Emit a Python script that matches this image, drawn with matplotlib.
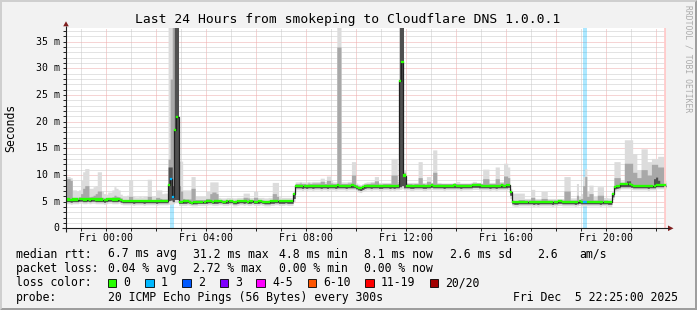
import numpy as np
import matplotlib
matplotlib.use("Agg")
import matplotlib.pyplot as plt
from matplotlib.patches import Polygon, Rectangle
from matplotlib.transforms import blended_transform_factory

# ---------------- data (5-minute steps, Thu 22:25 -> Fri 22:25) ----------------
START_H = -95 / 60.0          # hours relative to Fri 00:00
END_H = 22 + 25 / 60.0
STEP_H = 5 / 60.0

median = [
    5.4, 5.4, 5.3, 5.4, 5.4, 5.4, 5.5, 5.5, 5.4, 5.4, 5.5, 5.4,
    5.5, 5.5, 5.4, 5.4, 5.4, 5.4, 5.3, 5.4, 5.5, 5.5, 5.4, 5.4,
    5.4, 5.5, 5.3, 5.1, 5.1, 5.1, 5.1, 5.1, 5.1, 5.1, 5.1, 5.1,
    5.1, 5.1, 5.1, 5.1, 5.1, 5.1, 5.1, 5.1, 5.1, 5.1, 5.1, 5.1,
    5.1, 8.2, 9.3, 5.9, 18.5, 20.9, 5.0, 5.0, 5.1, 5.1, 5.1, 5.0,
    4.8, 4.9, 4.9, 5.0, 5.0, 5.0, 5.0, 5.1, 5.1, 5.1, 5.0, 5.1,
    5.1, 5.1, 5.1, 5.0, 5.0, 5.1, 5.1, 5.1, 4.9, 5.0, 5.1, 5.1,
    5.1, 5.1, 5.1, 5.0, 5.1, 5.1, 5.0, 5.0, 5.1, 5.1, 5.0, 4.9,
    4.9, 5.0, 5.1, 5.1, 5.1, 5.1, 5.1, 5.1, 5.1, 5.1, 5.1, 5.1,
    5.1, 6.4, 8.0, 8.0, 8.0, 8.0, 8.0, 7.9, 8.0, 8.0, 8.0, 8.0,
    8.0, 8.0, 7.9, 8.0, 8.0, 8.0, 8.0, 8.0, 8.0, 8.0, 8.1, 8.0,
    8.0, 8.0, 8.0, 8.0, 8.0, 8.1, 8.0, 7.8, 7.6, 7.5, 7.7, 7.9,
    8.0, 8.0, 8.0, 8.0, 8.0, 8.0, 7.9, 7.9, 8.0, 8.0, 8.0, 8.0,
    8.0, 8.0, 8.0, 8.0, 27.7, 31.2, 9.9, 8.0, 8.0, 8.0, 7.9, 8.0,
    8.0, 8.0, 8.0, 8.0, 7.9, 8.0, 8.0, 8.1, 8.0, 8.0, 8.0, 8.0,
    8.0, 8.0, 8.0, 8.0, 8.0, 8.0, 8.1, 8.0, 8.0, 8.0, 8.0, 8.0,
    8.0, 8.0, 8.0, 8.1, 8.1, 8.1, 8.1, 8.0, 8.0, 8.0, 8.0, 8.0,
    8.0, 8.0, 7.9, 8.0, 8.0, 8.1, 8.0, 8.1, 8.1, 6.8, 5.0, 4.9,
    4.9, 5.0, 5.0, 5.0, 5.0, 5.0, 5.0, 5.0, 5.0, 5.0, 4.9, 5.0,
    5.0, 5.0, 5.0, 5.0, 5.0, 5.0, 5.0, 5.0, 5.1, 5.1, 5.0, 5.0,
    5.0, 5.0, 5.0, 5.0, 5.0, 5.0, 5.1, 5.0, 5.0, 5.0, 5.0, 5.0,
    5.0, 5.0, 5.0, 5.0, 5.0, 5.0, 5.0, 5.0, 4.9, 4.9, 6.4, 7.8,
    7.9, 8.0, 8.3, 8.3, 8.3, 8.3, 8.3, 8.1, 8.0, 8.0, 8.0, 8.0,
    8.0, 8.0, 8.0, 8.0, 8.0, 8.0, 8.0, 8.2, 8.2, 8.2, 8.2, 8.1,
]

ping_max = [
    9.7, 9.7, 9.5, 7.2, 7.2, 7.0, 7.2, 9.0, 10.6, 11.2, 11.2, 7.5,
    7.5, 7.8, 8.0, 10.6, 10.6, 7.0, 6.5, 6.4, 6.8, 6.8, 7.2, 7.8,
    7.5, 7.2, 6.4, 6.0, 6.0, 6.2, 9.1, 9.1, 6.0, 5.9, 5.9, 6.0,
    5.9, 6.0, 6.0, 9.2, 9.2, 6.0, 6.1, 7.2, 7.2, 7.2, 6.5, 6.6,
    6.6, 40.0, 40.0, 40.0, 40.0, 40.0, 12.6, 12.6, 7.2, 7.2, 7.2, 7.2,
    9.7, 9.7, 6.0, 6.0, 6.0, 6.0, 6.0, 6.9, 6.9, 8.7, 8.7, 8.7,
    8.7, 5.8, 5.7, 5.7, 5.7, 5.8, 5.8, 5.8, 5.7, 5.7, 5.8, 5.8,
    5.8, 6.6, 6.6, 6.6, 5.8, 5.8, 6.9, 6.9, 5.8, 5.8, 5.8, 5.7,
    5.7, 5.8, 5.8, 8.6, 8.6, 8.6, 5.9, 5.8, 5.8, 5.8, 5.8, 5.8,
    5.8, 7.0, 8.7, 8.7, 8.8, 8.7, 8.7, 8.7, 8.8, 8.7, 8.8, 8.8,
    8.8, 8.8, 9.4, 9.4, 8.8, 9.8, 9.8, 9.0, 8.7, 8.7, 40.0, 40.0,
    8.7, 8.7, 8.7, 8.8, 8.8, 12.5, 12.5, 8.5, 8.3, 8.2, 8.4, 8.6,
    8.7, 8.7, 8.8, 8.8, 9.7, 9.7, 8.6, 8.6, 8.6, 8.6, 8.6, 8.6,
    13.1, 13.1, 13.1, 8.8, 40.0, 40.0, 11.0, 8.6, 8.6, 8.6, 8.6, 8.6,
    8.6, 12.5, 12.5, 8.6, 8.6, 9.7, 9.7, 8.6, 14.7, 14.7, 8.6, 8.6,
    8.5, 8.5, 8.5, 8.5, 8.5, 8.5, 8.5, 8.8, 8.8, 8.5, 8.5, 8.5,
    8.5, 8.5, 8.6, 8.8, 8.8, 8.6, 8.6, 8.5, 11.1, 11.1, 11.1, 8.6,
    8.6, 8.6, 11.5, 11.5, 8.8, 8.8, 12.2, 12.2, 11.5, 7.5, 6.6, 6.6,
    6.6, 6.6, 6.6, 6.6, 5.6, 5.6, 5.6, 7.3, 7.3, 5.6, 5.6, 5.6,
    6.9, 6.9, 6.9, 5.6, 5.6, 5.6, 5.6, 5.6, 5.6, 5.6, 5.6, 9.7,
    9.7, 9.7, 5.7, 5.7, 5.7, 8.4, 6.0, 6.5, 9.7, 11.2, 7.0, 8.1,
    8.1, 6.0, 6.0, 7.8, 7.8, 7.8, 5.8, 5.8, 5.7, 5.7, 7.0, 12.5,
    12.5, 12.5, 8.9, 8.9, 16.6, 16.6, 16.6, 16.6, 14.0, 14.0, 11.0, 11.0,
    14.9, 14.9, 14.9, 12.5, 12.5, 13.1, 13.1, 13.1, 13.5, 13.5, 13.5, 9.0,
]

ping_q3 = [
    9.3, 9.3, 9.0, 5.8, 5.8, 5.8, 5.9, 6.5, 7.5, 8.0, 8.0, 5.9,
    6.0, 6.2, 6.5, 7.0, 7.0, 5.8, 5.7, 5.7, 5.8, 5.8, 5.9, 6.2,
    6.0, 5.9, 5.7, 5.4, 5.4, 5.4, 6.0, 6.0, 5.4, 5.4, 5.4, 5.4,
    5.4, 5.4, 5.4, 6.0, 6.0, 5.4, 5.4, 5.8, 5.8, 5.6, 5.5, 5.5,
    5.5, 13.0, 28.0, 40.0, 40.0, 40.0, 8.0, 7.0, 5.6, 5.5, 5.5, 5.5,
    7.5, 7.5, 5.4, 5.4, 5.4, 5.4, 5.4, 5.6, 5.6, 6.5, 6.8, 6.8,
    6.5, 5.4, 5.4, 5.3, 5.3, 5.4, 5.4, 5.4, 5.2, 5.3, 5.4, 5.4,
    5.4, 5.8, 5.8, 5.7, 5.4, 5.4, 5.8, 5.8, 5.4, 5.4, 5.3, 5.2,
    5.2, 5.3, 5.4, 6.5, 6.5, 6.0, 5.4, 5.4, 5.4, 5.4, 5.4, 5.4,
    5.4, 6.6, 8.4, 8.4, 8.5, 8.4, 8.4, 8.3, 8.5, 8.4, 8.5, 8.5,
    8.5, 8.5, 8.8, 8.8, 8.4, 9.0, 9.0, 8.5, 8.4, 8.4, 34.0, 34.0,
    8.4, 8.4, 8.4, 8.5, 8.5, 10.0, 10.0, 8.2, 8.0, 7.9, 8.1, 8.3,
    8.4, 8.4, 8.5, 8.5, 8.9, 8.9, 8.3, 8.3, 8.4, 8.4, 8.4, 8.4,
    10.0, 10.0, 10.0, 8.4, 40.0, 40.0, 10.5, 8.4, 8.4, 8.4, 8.3, 8.4,
    8.4, 9.5, 9.5, 8.4, 8.3, 8.8, 8.8, 8.5, 10.5, 10.5, 8.4, 8.4,
    8.4, 8.4, 8.4, 8.4, 8.4, 8.4, 8.5, 8.4, 8.4, 8.4, 8.4, 8.4,
    8.4, 8.4, 8.4, 8.5, 8.5, 8.5, 8.5, 8.4, 9.3, 9.3, 9.3, 8.4,
    8.4, 8.4, 9.3, 9.3, 8.5, 8.5, 9.8, 9.8, 9.5, 7.1, 5.3, 5.2,
    5.2, 5.4, 5.4, 5.4, 5.3, 5.3, 5.3, 5.8, 5.8, 5.3, 5.3, 5.3,
    5.6, 5.6, 5.6, 5.3, 5.3, 5.3, 5.3, 5.3, 5.4, 5.4, 5.3, 7.0,
    7.0, 7.0, 5.3, 5.3, 5.3, 6.2, 5.4, 5.6, 8.0, 9.7, 6.0, 6.5,
    6.5, 5.3, 5.3, 6.2, 6.2, 6.2, 5.3, 5.3, 5.2, 5.2, 6.6, 9.5,
    9.5, 9.5, 8.6, 8.6, 12.2, 12.2, 12.2, 12.2, 10.5, 10.5, 9.5, 9.5,
    11.0, 11.0, 11.0, 10.0, 10.0, 12.0, 12.0, 12.0, 11.5, 11.5, 11.5, 8.5,
]

ping_q1 = [
    5.0, 5.0, 4.9, 5.0, 5.0, 5.0, 5.1, 5.1, 5.0, 5.0, 5.1, 5.0,
    5.1, 5.1, 5.0, 5.0, 5.0, 5.0, 4.9, 5.0, 5.1, 5.1, 5.0, 5.0,
    5.0, 5.1, 4.9, 4.8, 4.8, 4.8, 4.8, 4.8, 4.7, 4.8, 4.8, 4.8,
    4.8, 4.7, 4.8, 4.8, 4.8, 4.8, 4.8, 4.7, 4.8, 4.8, 4.8, 4.8,
    4.8, 5.2, 5.3, 5.0, 5.4, 5.4, 4.7, 4.7, 4.7, 4.7, 4.8, 4.7,
    4.6, 4.6, 4.6, 4.7, 4.7, 4.7, 4.7, 4.7, 4.8, 4.8, 4.7, 4.7,
    4.7, 4.8, 4.8, 4.7, 4.7, 4.7, 4.8, 4.8, 4.6, 4.6, 4.7, 4.8,
    4.8, 4.7, 4.8, 4.7, 4.7, 4.8, 4.7, 4.7, 4.7, 4.8, 4.7, 4.6,
    4.6, 4.6, 4.7, 4.7, 4.8, 4.8, 4.7, 4.7, 4.7, 4.8, 4.7, 4.7,
    4.7, 5.6, 7.6, 7.6, 7.6, 7.5, 7.6, 7.5, 7.6, 7.6, 7.5, 7.6,
    7.6, 7.6, 7.5, 7.6, 7.6, 7.5, 7.6, 7.6, 7.6, 7.5, 7.6, 7.6,
    7.6, 7.6, 7.5, 7.6, 7.6, 7.6, 7.6, 7.4, 7.2, 7.1, 7.3, 7.5,
    7.6, 7.6, 7.5, 7.6, 7.6, 7.6, 7.5, 7.5, 7.6, 7.6, 7.6, 7.5,
    7.6, 7.5, 7.6, 7.6, 7.8, 8.0, 7.6, 7.6, 7.6, 7.5, 7.5, 7.6,
    7.6, 7.6, 7.6, 7.5, 7.5, 7.6, 7.6, 7.7, 7.6, 7.6, 7.6, 7.6,
    7.6, 7.5, 7.6, 7.6, 7.6, 7.6, 7.6, 7.6, 7.6, 7.5, 7.6, 7.6,
    7.6, 7.6, 7.6, 7.7, 7.7, 7.7, 7.6, 7.6, 7.6, 7.6, 7.6, 7.5,
    7.6, 7.6, 7.5, 7.6, 7.6, 7.6, 7.6, 7.6, 7.7, 6.2, 4.6, 4.5,
    4.5, 4.6, 4.6, 4.6, 4.6, 4.6, 4.6, 4.6, 4.5, 4.6, 4.5, 4.6,
    4.6, 4.6, 4.6, 4.6, 4.6, 4.5, 4.6, 4.6, 4.7, 4.7, 4.6, 4.6,
    4.6, 4.6, 4.6, 4.6, 4.5, 4.6, 4.7, 4.6, 4.6, 4.6, 4.6, 4.6,
    4.6, 4.6, 4.6, 4.6, 4.5, 4.6, 4.6, 4.6, 4.5, 4.5, 5.9, 7.4,
    7.5, 7.6, 7.8, 7.8, 7.8, 7.8, 7.8, 7.7, 7.6, 7.6, 7.6, 7.6,
    7.6, 7.6, 7.6, 7.5, 7.6, 7.6, 7.6, 7.8, 7.8, 7.8, 7.8, 7.8,
]

ping_min = [
    4.6, 4.6, 4.5, 4.6, 4.6, 4.6, 4.7, 4.7, 4.6, 4.6, 4.7, 4.6,
    4.7, 4.7, 4.6, 4.6, 4.6, 4.6, 4.5, 4.6, 4.7, 4.7, 4.6, 4.6,
    4.6, 4.7, 4.5, 4.4, 4.4, 4.4, 4.4, 4.4, 4.3, 4.4, 4.4, 4.4,
    4.4, 4.3, 4.4, 4.4, 4.4, 4.4, 4.4, 4.3, 4.4, 4.4, 4.4, 4.4,
    4.4, 4.5, 4.5, 4.6, 4.8, 4.8, 4.3, 4.3, 4.3, 4.3, 4.4, 4.3,
    4.2, 4.2, 4.2, 4.3, 4.3, 4.3, 4.3, 4.3, 4.4, 4.4, 4.3, 4.3,
    4.3, 4.4, 4.4, 4.3, 4.3, 4.3, 4.4, 4.4, 4.2, 4.2, 4.3, 4.4,
    4.4, 4.3, 4.4, 4.3, 4.3, 4.4, 4.3, 4.3, 4.3, 4.4, 4.3, 4.2,
    4.2, 4.2, 4.3, 4.3, 4.4, 4.4, 4.3, 4.3, 4.3, 4.4, 4.3, 4.3,
    4.3, 5.0, 7.2, 7.2, 7.2, 7.1, 7.2, 7.1, 7.2, 7.2, 7.1, 7.2,
    7.2, 7.2, 7.1, 7.2, 7.2, 7.1, 7.2, 7.2, 7.2, 7.1, 7.2, 7.2,
    7.2, 7.2, 7.1, 7.2, 7.2, 7.2, 7.2, 7.0, 6.8, 6.7, 6.9, 7.1,
    7.2, 7.2, 7.1, 7.2, 7.2, 7.2, 7.1, 7.1, 7.2, 7.2, 7.2, 7.1,
    7.2, 7.1, 7.2, 7.2, 7.3, 7.4, 7.2, 7.2, 7.2, 7.1, 7.1, 7.2,
    7.2, 7.2, 7.2, 7.1, 7.1, 7.2, 7.2, 7.3, 7.2, 7.2, 7.2, 7.2,
    7.2, 7.1, 7.2, 7.2, 7.2, 7.2, 7.2, 7.2, 7.2, 7.1, 7.2, 7.2,
    7.2, 7.2, 7.2, 7.3, 7.3, 7.3, 7.2, 7.2, 7.2, 7.2, 7.2, 7.1,
    7.2, 7.2, 7.1, 7.2, 7.2, 7.2, 7.2, 7.2, 7.3, 5.6, 4.2, 4.1,
    4.1, 4.2, 4.2, 4.2, 4.2, 4.2, 4.2, 4.2, 4.1, 4.2, 4.1, 4.2,
    4.2, 4.2, 4.2, 4.2, 4.2, 4.1, 4.2, 4.2, 4.3, 4.3, 4.2, 4.2,
    4.2, 4.2, 4.2, 4.2, 4.1, 4.2, 4.3, 4.2, 4.2, 4.2, 4.2, 4.2,
    4.2, 4.2, 4.2, 4.2, 4.1, 4.2, 4.2, 4.2, 4.1, 4.1, 5.4, 7.0,
    7.1, 7.2, 7.4, 7.4, 7.4, 7.4, 7.4, 7.3, 7.2, 7.2, 7.2, 7.2,
    7.2, 7.2, 7.2, 7.1, 7.2, 7.2, 7.2, 7.4, 7.4, 7.4, 7.4, 7.4,
]

# top of the darkest smoke layer where it rises above the median (step index -> ms)
dark_core = {49: 11.5, 50: 11.5, 51: 8.0, 52: 40.0, 53: 40.0,
             160: 40.0, 161: 40.0, 162: 10.0,
             269: 8.9, 270: 8.9, 282: 9.3, 283: 9.6, 284: 9.0}

# lost pings per step (out of 20)
lost_pings = {50: 1, 51: 1, 248: 1, 249: 1}

loss_labels = ["0", "1", "2", "3", "4-5", "6-10", "11-19", "20/20"]
loss_colors = ["#26ff00", "#00b8ff", "#0059ff", "#7e00ff",
               "#ff00ff", "#ff5500", "#ff0000", "#a10000"]

x_tick_hours = [0, 4, 8, 12, 16, 20]
x_tick_labels = ["Fri 00:00", "Fri 04:00", "Fri 08:00",
                 "Fri 12:00", "Fri 16:00", "Fri 20:00"]
y_tick_values = [0, 5, 10, 15, 20, 25, 30, 35]
y_tick_labels = ["0", "5 m", "10 m", "15 m", "20 m", "25 m", "30 m", "35 m"]

title = "Last 24 Hours from smokeping to Cloudflare DNS 1.0.0.1"
stats_rtt = ["median rtt:", "6.7 ms avg", "31.2 ms max", "4.8 ms min",
             "8.1 ms now", "2.6 ms sd", "2.6", "am/s"]
stats_loss = ["packet loss:", "0.04 % avg", "2.72 % max", "0.00 % min", "0.00 % now"]
probe_text = ["probe:", "20 ICMP Echo Pings (56 Bytes) every 300s",
              "Fri Dec  5 22:25:00 2025"]

# ---------------- figure ----------------
W, H = 697, 310
MONO = "DejaVu Sans Mono"
plt.rcParams["font.family"] = [MONO, "DejaVu Sans"]

fig = plt.figure(figsize=(W / 100, H / 100), dpi=100, facecolor="#f2f2f2")
PL, PR, PT, PB = 66, 666, 28.3, 228.3
ax = fig.add_axes([PL / W, 1 - PB / H, (PR - PL) / W, (PB - PT) / H])
ax.set_facecolor("white")
ax.set_xlim(START_H, END_H)
ax.set_ylim(0, 37.5)
for s in ax.spines.values():
    s.set_visible(False)

n = len(median)
med = np.array(median)
edges = START_H + np.arange(n + 1) * STEP_H
lefts = edges[:-1]

def ext(a):
    a = np.asarray(a, dtype=float)
    return np.append(a, a[-1])

# grid
GRID_MINOR = "#c9c9c9"
GRID_MAJOR = "#eeaaaa"
hours = np.arange(np.ceil(START_H), END_H, 1.0)
for h in hours:
    major = int(round(h)) % 2 == 0
    ax.axvline(h, color=GRID_MAJOR if major else GRID_MINOR, lw=0.72,
               ls=(0, (1, 1)), zorder=0.5)
for v in np.arange(1, 38, 1.0):
    major = int(v) % 5 == 0
    ax.axhline(v, color=GRID_MAJOR if major else GRID_MINOR, lw=0.72,
               ls=(0, (1, 1)), zorder=0.5)

# loss background
for i, lp in lost_pings.items():
    ax.axvspan(lefts[i], lefts[i] + STEP_H, color=loss_colors[1 if lp == 1 else 2],
               alpha=0.32, lw=0, zorder=0.8)

# smoke
ax.fill_between(edges, ext(ping_min), ext(ping_max), step="post",
                color="#dcdcdc", lw=0, zorder=1)
ax.fill_between(edges, ext(ping_q1), ext(ping_q3), step="post",
                color="#a8a8a8", lw=0, zorder=2)
dark_hi = np.array([max(median[i], dark_core.get(i, median[i])) for i in range(n)])
ax.fill_between(edges, ext(ping_q1), ext(dark_hi), step="post",
                color="#505050", lw=0, zorder=3)

# "now" marker
ax.axvline(END_H - 0.035, color="#ffcccc", lw=2.0, zorder=3.5)

# median line + loss-coloured band
ax.step(edges, ext(median), where="post", color="#202020", lw=0.9, zorder=4)
sw = 0.2
cols = [loss_colors[1] if lost_pings.get(i, 0) == 1 else loss_colors[0] for i in range(n)]
ax.bar(lefts, 2 * sw, bottom=med - sw, width=STEP_H, align="edge",
       color=cols, edgecolor=cols, lw=0.2, zorder=5)

# ticks
ax.set_xticks(hours)
ax.set_xticklabels([])
ax.set_yticks(np.arange(0, 38, 1.0))
ax.set_yticklabels([])
ax.tick_params(axis="both", length=2, width=0.7, color="#1f1f1f", direction="out")

bx = blended_transform_factory(ax.transData, ax.transAxes)
for h, lab in zip(x_tick_hours, x_tick_labels):
    ax.text(h, -9.8 / 200, lab, transform=bx, ha="center", va="center",
            fontsize=7.1, family=MONO, color="black")
by = blended_transform_factory(ax.transAxes, ax.transData)
for v, lab in zip(y_tick_values, y_tick_labels):
    ax.text(-6.5 / 600, v, lab, transform=by, ha="right", va="center",
            fontsize=7.1, family=MONO, color="black")

# ---------------- overlay in pixel coordinates ----------------
ov = fig.add_axes([0, 0, 1, 1], zorder=10)
ov.set_xlim(0, W)
ov.set_ylim(H, 0)
ov.axis("off")
ov.patch.set_alpha(0)

# 3D frame
ov.add_patch(Polygon([[0, 0], [W, 0], [W - 2, 2], [2, 2], [2, H - 2], [0, H]],
                     closed=True, color="#cfcfcf", lw=0))
ov.add_patch(Polygon([[W, 0], [W, H], [0, H], [2, H - 2], [W - 2, H - 2], [W - 2, 2]],
                     closed=True, color="#9e9e9e", lw=0))

# axes with arrows
ov.plot([PL, PL], [PB + 3.5, PT - 2], color="#1f1f1f", lw=0.8, solid_capstyle="butt")
ov.plot([PL - 4, PR + 3], [PB, PB], color="#1f1f1f", lw=0.8, solid_capstyle="butt")
ov.add_patch(Polygon([[PL - 2.8, PT - 2], [PL + 2.8, PT - 2], [PL, PT - 7]],
                     closed=True, color="#801f1f", lw=0))
ov.add_patch(Polygon([[PR + 2, PB - 2.8], [PR + 2, PB + 2.8], [PR + 7.5, PB]],
                     closed=True, color="#801f1f", lw=0))

# title, axis label, watermark
ov.text(347.8, 19.3, title, ha="center", va="center", fontsize=9.4,
        family=MONO, color="black")
ov.text(10.8, 128, "Seconds", rotation=90, ha="center", va="center",
        fontsize=8.3, family=MONO, color="black")
ov.text(688, 59, "RRDTOOL / TOBI OETIKER", rotation=270, ha="center",
        va="center", fontsize=5.8, family=MONO, color="#ababab")

# legend
LF = 8.3
row_y = [254, 268.5, 283, 297.5]
for x, s in zip([16, 107.6, 192.9, 279.1, 364.4, 450.2, 536.9, 579.1], stats_rtt):
    ov.text(x, row_y[0], s, ha="left", va="center", fontsize=LF, family=MONO)
for x, s in zip([16, 107.6, 192.9, 279.1, 364.4], stats_loss):
    ov.text(x, row_y[1], s, ha="left", va="center", fontsize=LF, family=MONO)
ov.text(16, row_y[2], "loss color:", ha="left", va="center", fontsize=LF, family=MONO)
sw_x = [108, 145.3, 182.2, 219.6, 256.4, 307.6, 365.3, 429.8]
for x, lab, c in zip(sw_x, loss_labels, loss_colors):
    ov.add_patch(Rectangle((x, row_y[2] - 4.2), 8.4, 8.4, facecolor=c,
                           edgecolor="black", lw=0.6))
    ov.text(x + 15.6, row_y[2], lab, ha="left", va="center", fontsize=LF, family=MONO)
for x, s in zip([16, 107.6, 513.3], probe_text):
    ov.text(x, row_y[3], s, ha="left", va="center", fontsize=LF, family=MONO)

fig.savefig("out.png", dpi=100, facecolor=fig.get_facecolor())
